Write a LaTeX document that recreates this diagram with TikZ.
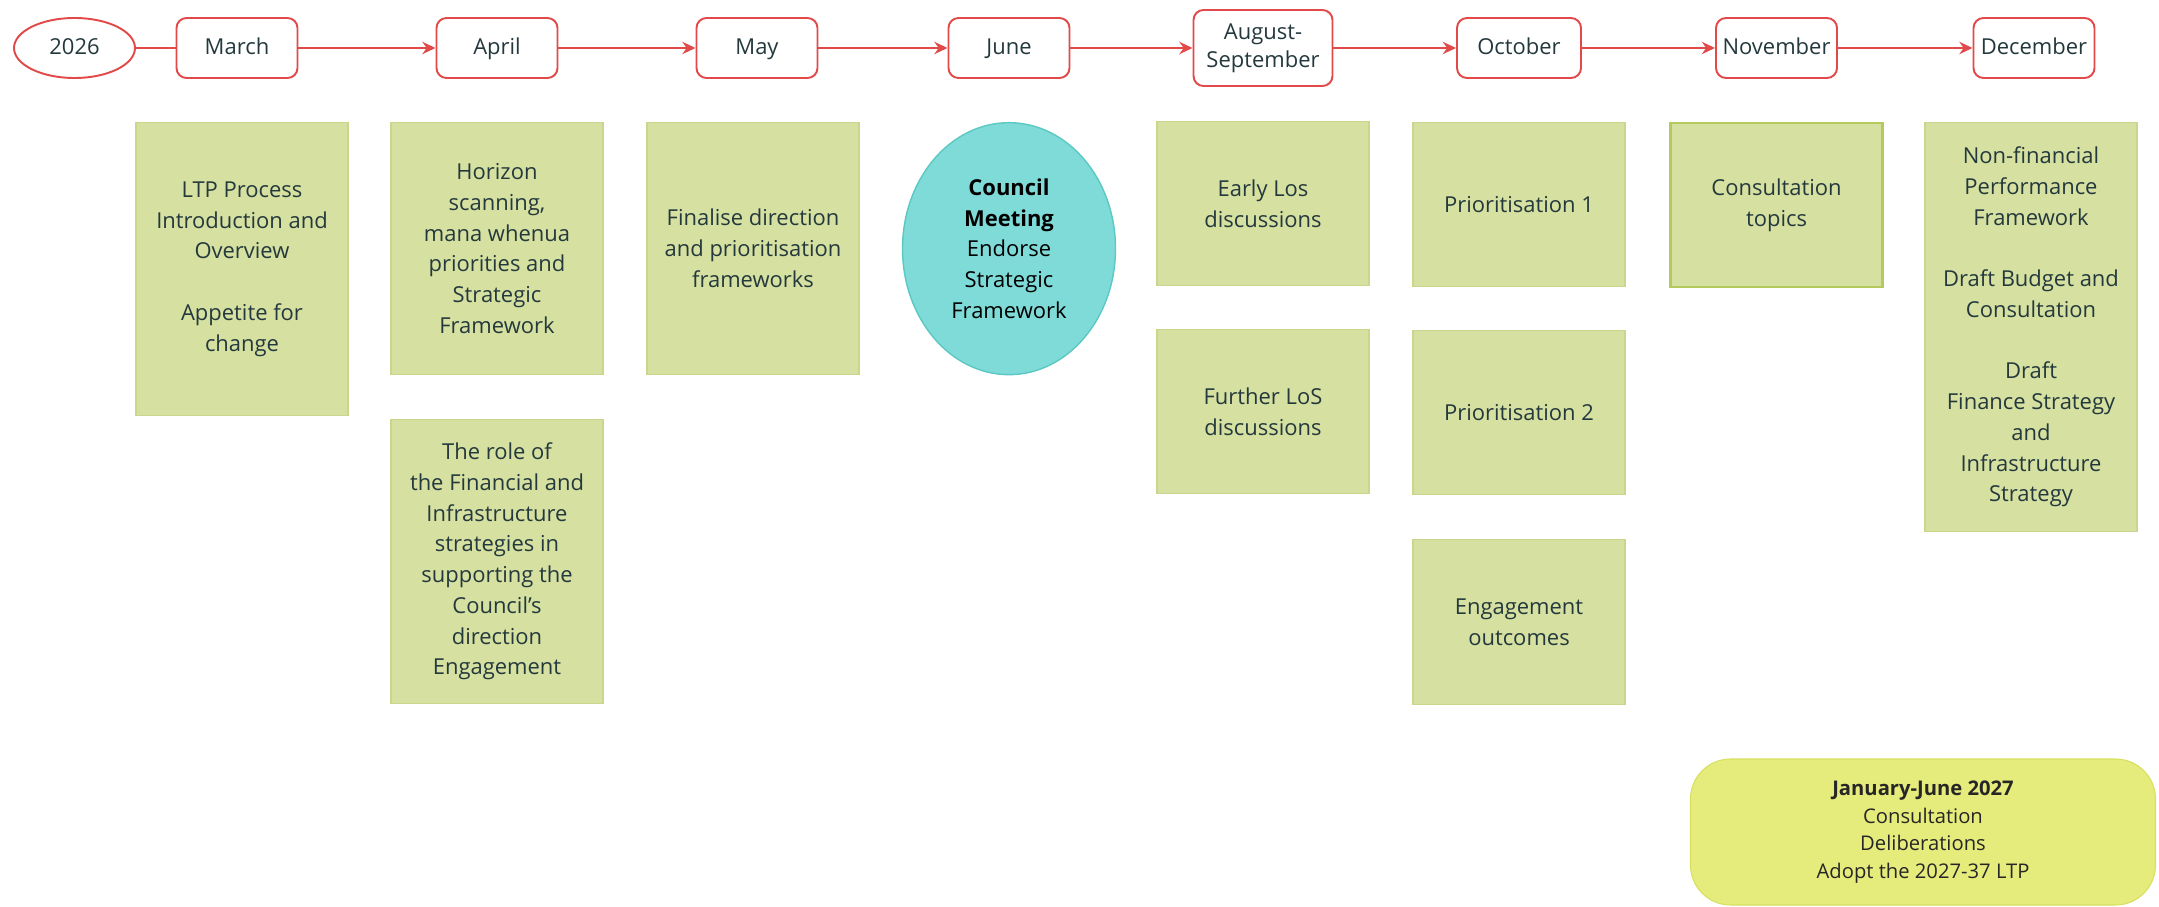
\documentclass[tikz,border=0pt]{standalone}
\usepackage{fontspec}
\setmainfont{Open Sans}
\usepackage{tikz}
\usetikzlibrary{positioning}
\usetikzlibrary{arrows.meta}
\usetikzlibrary{shapes.geometric}
\definecolor{linered}{HTML}{E24A4A}
\definecolor{taskgreen}{HTML}{D6E0A0}
\definecolor{taskedge}{HTML}{C9D78C}
\definecolor{nextedge}{HTML}{B4CA5C}
\definecolor{meetcyan}{HTML}{7EDBD8}
\definecolor{meetedge}{HTML}{5CC8C3}
\definecolor{yearyellow}{HTML}{E6EC7C}
\definecolor{yearedge}{HTML}{D7E05E}
\definecolor{ink}{HTML}{24393D}

\begin{document}
\begin{tikzpicture}[
            > = {Stealth[length=7.5pt, width=7pt]}, % arrow head style
            auto,
            node distance = 5.15cm, % distance between months
            line width = 1.1pt
            ]

        \tikzstyle{month}=[
            draw = linered,
            fill = white,
            rounded corners = 0.2cm,
            minimum width = 2.42cm,
            minimum height = 1.2cm,
            align = center,
            text = ink,
            font = \fontsize{12.5}{16}\selectfont
        ]
        \tikzstyle{oneline}=[
            text height = 1.75ex,
            text depth = 0.4ex
        ]
        \tikzstyle{task}=[
            draw = taskedge,
            line width = 0.6pt,
            fill = taskgreen,
            minimum width = 4.24cm,
            align = center,
            text = ink,
            font = \fontsize{12.5}{17.5}\selectfont
        ]

        \useasboundingbox (-1.49,0.96) rectangle (41.69,-17.18);

	% time line
        \node[month, oneline, ellipse, rounded corners = 0pt] (Y0) {2026};
        \node[month, oneline] (M3) [right of=Y0, node distance=3.25cm] {March};
        \node[month, oneline] (M4) [right of=M3, node distance=5.2cm] {April};
        \node[month, oneline] (M5) [right of=M4, node distance=5.2cm] {May};
        \node[month, oneline] (M6) [right of=M5, node distance=5.04cm] {June};
        \node[month, minimum width=2.78cm, minimum height=1.52cm] (M8) [right of=M6, node distance=5.08cm] {August-\\September};
        \node[month, oneline, minimum width=2.48cm] (M10) [right of=M8, node distance=5.12cm] {October};
        \node[month, oneline] (M11) [right of=M10] {November};
        \node[month, oneline] (M12) [right of=M11] {December};

        \path[color=linered] (Y0) edge (M3);
        \path[->, color=linered] (M3) edge (M4);
        \path[->, color=linered] (M4) edge (M5);
        \path[->, color=linered] (M5) edge (M6);
        \path[->, color=linered] (M6) edge (M8);
        \path[->, color=linered] (M8) edge (M10);
        \path[->, color=linered] (M10) edge (M11);
        \path[->, color=linered] (M11) edge (M12);

	% workshops
        \node[task, minimum height=5.86cm, xshift=0.1cm] (T3) [below = 0.86cm of M3]
            {LTP Process\\Introduction and\\Overview\\[17.5pt]Appetite for\\change};
        \node[task, minimum height=5.04cm] (T4) [below = 0.86cm of M4]
            {Horizon\\scanning,\\mana whenua\\priorities and\\Strategic\\Framework};
        \node[task, minimum height=5.68cm] (T4b) [below = 0.88cm of T4]
            {The role of\\the Financial and\\Infrastructure\\strategies in\\supporting the\\Council’s\\direction\\Engagement};
        \node[task, minimum height=5.04cm, xshift=-0.08cm] (T5) [below = 0.86cm of M5]
            {Finalise direction\\and prioritisation\\frameworks};

        % council meeting
        \node[task, ellipse, draw=meetedge, fill=meetcyan, line width=0.8pt,
              minimum width=4.26cm, minimum height=5.04cm, text=black] (C6) [below = 0.86cm of M6]
            {\textbf{Council}\\\textbf{Meeting}\\Endorse\\Strategic\\Framework};

        \node[task, minimum height=3.28cm] (T8) [below = 0.68cm of M8] {Early Los\\discussions};
        \node[task, minimum height=3.28cm] (T8b) [below = 0.86cm of T8] {Further LoS\\discussions};

        \node[task, minimum height=3.28cm] (T10) [below = 0.86cm of M10] {Prioritisation 1};
        \node[task, minimum height=3.28cm] (T10b) [below = 0.86cm of T10] {Prioritisation 2};
        \node[task, minimum height=3.3cm] (T10c) [below = 0.88cm of T10b] {Engagement\\outcomes};

        \node[task, draw=nextedge, line width=1.2pt, minimum height=3.28cm] (T11) [below = 0.86cm of M11]
            {Consultation\\topics};

        \node[task, minimum height=8.18cm, xshift=-0.06cm] (T12) [below = 0.86cm of M12]
            {Non-financial\\Performance\\Framework\\[17.5pt]Draft Budget and\\Consultation\\[17.5pt]Draft\\Finance Strategy\\and\\Infrastructure\\Strategy};

        % next year
        \node[task, draw=yearedge, fill=yearyellow, rounded corners=0.8cm,
              minimum width=9.3cm, minimum height=2.92cm, text=black!85,
              font=\fontsize{11.5}{15.6}\selectfont] (J27) at (36.97,-15.68)
            {\textbf{January-June 2027}\\Consultation\\Deliberations\\Adopt the 2027-37 LTP};

  \end{tikzpicture}
\end{document}
